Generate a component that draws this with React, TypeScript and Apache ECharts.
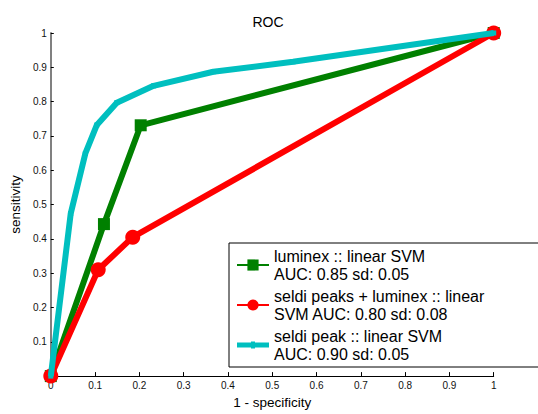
import React, { useEffect, useRef } from "react";
import * as echarts from "echarts";

const titleText = "ROC";
const xName = "1 - specificity";
const yName = "sensitivity";

const fprLuminex = [0, 0.12, 0.203, 1];
const tprLuminex = [0, 0.443, 0.731, 1];

const fprCombined = [0, 0.107, 0.185, 1];
const tprCombined = [0, 0.31, 0.405, 1];

const fprSeldi = [0, 0.045, 0.078, 0.104, 0.149, 0.232, 0.367, 0.547, 1];
const tprSeldi = [0, 0.474, 0.649, 0.732, 0.797, 0.846, 0.887, 0.916, 1];

const nameLuminex = "luminex :: linear SVM\nAUC: 0.85 sd: 0.05";
const nameCombined = "seldi peaks + luminex :: linear\nSVM AUC: 0.80 sd: 0.08";
const nameSeldi = "seldi peak :: linear SVM\nAUC: 0.90 sd: 0.05";

const FONT = "Liberation Sans, Arial, Helvetica, sans-serif";

const tickFmt = (v: number) => {
  if (Math.abs(v) < 1e-9) return "0";
  if (Math.abs(v - 1) < 1e-9) return "1";
  return v.toFixed(1);
};

const pairs = (xs: number[], ys: number[]) => xs.map((x, i) => [x, ys[i]]);

export default function App() {
  const ref = useRef<HTMLDivElement>(null);
  useEffect(() => {
    if (!ref.current) return;
    const chart = echarts.init(ref.current, undefined, { renderer: "svg" });
    chart.setOption({
      animation: false,
      backgroundColor: "#ffffff",
      title: {
        text: titleText,
        left: 263,
        top: 10,
        textAlign: "center",
        textStyle: { fontFamily: FONT, fontSize: 14, fontWeight: "normal", color: "#000" },
      },
      grid: { left: 48.7, right: 44.3, top: 33, bottom: 29 },
      xAxis: {
        type: "value",
        min: 0,
        max: 1,
        interval: 0.1,
        name: xName,
        nameLocation: "middle",
        nameGap: 14,
        nameTextStyle: { fontFamily: FONT, fontSize: 13.5, color: "#000" },
        axisLine: { show: true, lineStyle: { color: "#000", width: 1 } },
        axisTick: { show: true, inside: true, length: 4, lineStyle: { color: "#000" } },
        axisLabel: { fontFamily: FONT, fontSize: 10, color: "#111", margin: 4, formatter: tickFmt },
        splitLine: { show: false },
      },
      yAxis: {
        type: "value",
        min: 0,
        max: 1,
        interval: 0.1,
        name: yName,
        nameLocation: "middle",
        nameGap: 19,
        nameTextStyle: { fontFamily: FONT, fontSize: 13.5, color: "#000" },
        axisLine: { show: true, lineStyle: { color: "#808080", width: 2 } },
        axisTick: { show: true, inside: true, length: 3, lineStyle: { color: "#000" } },
        axisLabel: {
          fontFamily: FONT,
          fontSize: 10,
          color: "#111",
          margin: 4,
          formatter: (v: number) => (Math.abs(v) < 1e-9 ? "" : tickFmt(v)),
        },
        splitLine: { show: false },
      },
      legend: {
        left: 229,
        top: 243,
        orient: "vertical",
        backgroundColor: "#fff",
        borderColor: "#000",
        borderWidth: 1,
        padding: [4, 55, 4, 7],
        itemGap: 4,
        itemWidth: 32,
        itemHeight: 14,
        textStyle: { fontFamily: FONT, fontSize: 16, lineHeight: 18, color: "#000" },
        data: [
          nameLuminex,
          nameCombined,
          { name: nameSeldi, icon: "path://M0,1H14V0H18V1H32V6H18V7H14V6H0Z" },
        ],
      },
      series: [
        {
          name: nameLuminex,
          type: "line",
          data: pairs(fprLuminex, tprLuminex),
          symbol: "rect",
          symbolSize: 12,
          color: "#008000",
          lineStyle: { color: "#008000", width: 6 },
          itemStyle: { color: "#008000" },
          z: 2,
        },
        {
          name: nameCombined,
          type: "line",
          data: pairs(fprCombined, tprCombined),
          symbol: "circle",
          symbolSize: 15,
          color: "#ff0000",
          lineStyle: { color: "#ff0000", width: 6 },
          itemStyle: { color: "#ff0000" },
          z: 3,
        },
        {
          name: nameSeldi,
          type: "line",
          data: pairs(fprSeldi, tprSeldi),
          symbol: "rect",
          symbolSize: 5,
          color: "#00bfbf",
          lineStyle: { color: "#00bfbf", width: 6 },
          itemStyle: { color: "#00bfbf" },
          z: 4,
        },
      ],
    });
    return () => chart.dispose();
  }, []);
  return (
    <div
      ref={ref}
      style={{ position: "fixed", left: 0, top: 0, width: 538, height: 414, background: "#fff" }}
    />
  );
}
